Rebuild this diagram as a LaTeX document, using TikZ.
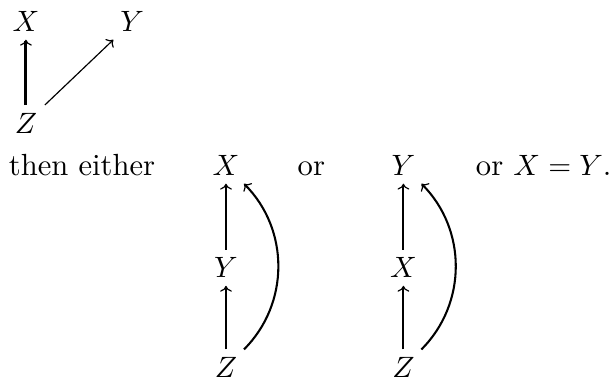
\documentclass[tikz,border=0pt]{standalone}
\usetikzlibrary{arrows.meta}
\begin{document}
\begin{tikzpicture}[
  every node/.style={font=\fontsize{10.4pt}{12.5pt}\selectfont},
  obj/.style={anchor=base, inner sep=2.5pt},
  txt/.style={anchor=base west, inner sep=0pt},
  tip/.style={-{To[length=2pt,width=4pt,line width=0.4pt]}},
  heavyarr/.style={tip, line width=1pt},
  midarr/.style={tip, line width=0.7pt},
  lightarr/.style={tip, line width=0.4pt}
]
\useasboundingbox (0,0) rectangle (7.36,-4.565);

% Top: Z under X, with Y off to the side
\node[obj] (x1) at (0.31,-0.38) {$X$};
\node[obj] (y1) at (1.58,-0.38) {$Y$};
\node[obj] (z1) at (0.31,-1.59) {$Z$};
\draw[heavyarr] (z1) -- (x1);
\draw[lightarr] (z1) -- (y1);

% Middle line of text
\node[txt] (then) at (0.10,-2.10) {then either};
\node[obj] (x2) at (2.70,-2.10) {$X$};
\node[obj] (or1) at (3.72,-2.10) {or};
\node[obj] (y3) at (4.82,-2.10) {$Y$};
\node[txt] (or2) at (5.68,-2.10) {or $X=Y$.};

% First case: Z -> Y -> X
\node[obj] (y2) at (2.70,-3.32) {$Y$};
\node[obj] (z2) at (2.70,-4.51) {$Z$};
\draw[heavyarr] (y2) -- (x2);
\draw[heavyarr] (z2) -- (y2);
\draw[midarr] (z2.45) to[out=45, in=-45] (x2.-45);

% Second case: Z -> X -> Y
\node[obj] (x3) at (4.82,-3.32) {$X$};
\node[obj] (z3) at (4.82,-4.51) {$Z$};
\draw[midarr] (x3) -- (y3);
\draw[midarr] (z3) -- (x3);
\draw[midarr] (z3.45) to[out=45, in=-45] (y3.-45);
\end{tikzpicture}
\end{document}
